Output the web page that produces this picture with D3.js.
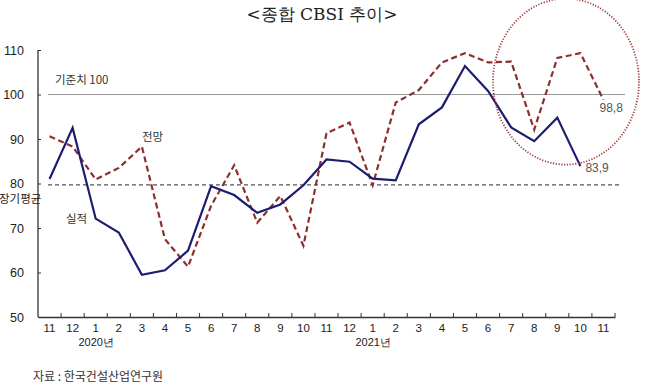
<!DOCTYPE html>
<html>
<head>
<meta charset="utf-8">
<script src="https://cdn.jsdelivr.net/npm/d3@7"></script>
<style>
  body { margin: 0; background: #fff; }
  svg { display: block; }
  .tick text { font-family: "Liberation Sans", Arial, sans-serif; }
</style>
</head>
<body>
<svg id="chart"></svg>
<script>
const width = 647;
const height = 386;

// months along the x axis, Nov 2019 .. Nov 2021
const months = ["11", "12", "1", "2", "3", "4", "5", "6", "7", "8", "9", "10", "11", "12",
                "1", "2", "3", "4", "5", "6", "7", "8", "9", "10", "11"];
const actual = [81.0, 92.5, 72.1, 69.0, 59.5, 60.5, 64.9, 79.4, 77.4, 73.4, 75.3, 79.6, 85.4,
                84.9, 81.1, 80.7, 93.3, 97.1, 106.4, 100.8, 92.6, 89.5, 94.8, 83.9];
const forecast = [90.6, 88.3, 80.9, 83.5, 88.3, 67.5, 61.3, 75.0, 84.1, 71.2, 77.2, 66.0, 91.3,
                  93.7, 79.6, 98.2, 101.0, 107.2, 109.3, 107.2, 107.4, 92.1, 108.2, 109.3, 98.8];
const yTicks = [50, 60, 70, 80, 90, 100, 110];
const baseline = 100;
const longTermAvg = 79.7;
const years = [{label: "2020년", after: 2}, {label: "2021년", after: 14}];

const svg = d3.select("#chart").attr("width", width).attr("height", height);

const x = d3.scaleBand()
    .domain(d3.range(months.length))
    .range([38, 615]);

const y = d3.scaleLinear()
    .domain([50, 110])
    .range([317, 50]);

const cx = i => x(i) + x.bandwidth() / 2;

// title
svg.append("text")
    .attr("x", 322).attr("y", 20)
    .attr("text-anchor", "middle")
    .style("font-family", "'DejaVu Serif', serif")
    .style("font-size", "17px")
    .style("fill", "#222")
    .text("<종합 CBSI 추이>");

// axes
let axisX = d3.axisBottom(x)
    .tickSize(0)
    .tickFormat(i => months[i]);

let gx = svg.append("g")
    .attr("transform", `translate(0, ${y(50)})`)
    .call(axisX);
gx.select(".domain").attr("stroke", "#333").attr("stroke-width", 1.3);
gx.selectAll("text").attr("dy", "1.05em").style("font-size", "11.5px").style("fill", "#222");

// small upward ticks on band edges
svg.append("g").selectAll("line")
    .data(d3.range(1, months.length + 1))
    .enter()
    .append("line")
    .attr("x1", d => x(0) + d * x.step())
    .attr("x2", d => x(0) + d * x.step())
    .attr("y1", y(50))
    .attr("y2", y(50) - 4)
    .attr("stroke", "#333");

let axisY = d3.axisLeft(y)
    .tickValues(yTicks)
    .tickSize(-3)
    .tickPadding(14);

let gy = svg.append("g")
    .attr("transform", `translate(38, 0)`)
    .call(axisY);
gy.select(".domain").attr("stroke", "#333").attr("stroke-width", 1.3).attr("d", `M0,${y(110)}V${y(50)}`);
gy.selectAll(".tick line").attr("stroke", "#333");
gy.selectAll("text").style("font-size", "12.5px").style("fill", "#222");

// year labels
svg.append("g").selectAll("text")
    .data(years)
    .enter()
    .append("text")
    .attr("x", d => x(d.after) + x.step() / 2 + 0.5)
    .attr("y", 346)
    .attr("text-anchor", "middle")
    .style("font-family", "'Liberation Sans Narrow', 'Liberation Sans', sans-serif")
    .style("font-size", "11px")
    .style("fill", "#222")
    .text(d => d.label);

// reference lines
svg.append("line")
    .attr("x1", 48).attr("x2", 625)
    .attr("y1", y(baseline)).attr("y2", y(baseline))
    .attr("stroke", "#999").attr("stroke-width", 1.2);

svg.append("line")
    .attr("x1", 48).attr("x2", 622)
    .attr("y1", y(longTermAvg)).attr("y2", y(longTermAvg))
    .attr("stroke", "#555").attr("stroke-width", 1.3)
    .attr("stroke-dasharray", "4,3");

// series
let line = d3.line()
    .x((d, i) => cx(i))
    .y(d => y(d));

svg.append("path")
    .datum(forecast)
    .attr("d", line)
    .attr("fill", "none")
    .attr("stroke", "#8e2f2f")
    .attr("stroke-width", 2.2)
    .attr("stroke-dasharray", "6,3.5");

svg.append("path")
    .datum(actual)
    .attr("d", line)
    .attr("fill", "none")
    .attr("stroke", "#1c1c72")
    .attr("stroke-width", 2.2);

// highlight ellipse
svg.append("ellipse")
    .attr("cx", 566).attr("cy", y(102.9))
    .attr("rx", 73).attr("ry", 83)
    .attr("fill", "none")
    .attr("stroke", "#a23a3a")
    .attr("stroke-width", 1.8)
    .attr("stroke-dasharray", "1.2,1.6");

// annotations
const noteFont = "'Noto Sans CJK KR', sans-serif";
function note(tx, ty, txt, size, color) {
    svg.append("text")
        .attr("x", tx).attr("y", ty)
        .style("font-family", noteFont)
        .style("font-size", size + "px")
        .style("fill", color || "#333")
        .text(txt);
}
note(55, 84, "기준치 100", 11.5);
note(142, 141, "전망", 11.5);
note(66, 223, "실적", 11.5);
note(-1, 203, "장기평균", 11.5, "#222");
note(33, 381, "자료 : 한국건설산업연구원", 12, "#333");

svg.append("text")
    .attr("x", cx(24) - 4).attr("y", y(forecast[24]) + 12)
    .style("font-family", "'Liberation Sans', sans-serif")
    .style("font-size", "12px")
    .style("fill", "#555")
    .text("98,8");

svg.append("text")
    .attr("x", cx(23) + 5).attr("y", y(actual[23]) + 6)
    .style("font-family", "'Liberation Sans', sans-serif")
    .style("font-size", "12px")
    .style("fill", "#555")
    .text("83,9");
</script>
</body>
</html>
